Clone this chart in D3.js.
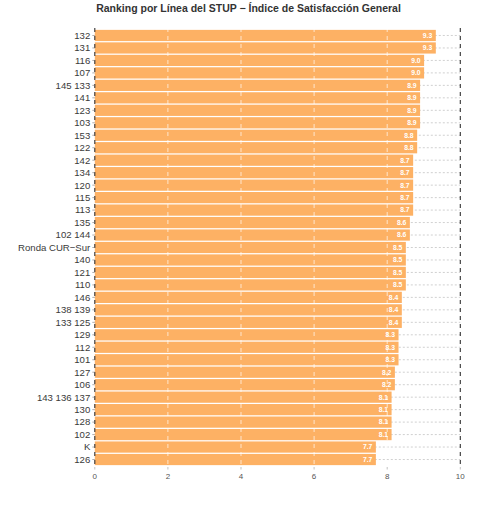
<!DOCTYPE html>
<html><head><meta charset="utf-8">
<script src="https://cdn.jsdelivr.net/npm/d3@7"></script>
<style>body{margin:0;background:#fff}svg{display:block}</style>
</head><body>
<script>
const title = "Ranking por Línea del STUP − Índice de Satisfacción General";
const categories = ["132","131","116","107","145 133","141","123","103","153","122","142","134","120","115","113","135","102 144","Ronda CUR−Sur","140","121","110","146","138 139","133 125","129","112","101","127","106","143 136 137","130","128","102","K","126"];
const values = [9.33,9.33,9.01,9.01,8.90,8.90,8.90,8.90,8.82,8.82,8.71,8.71,8.71,8.71,8.71,8.62,8.62,8.51,8.51,8.51,8.51,8.40,8.40,8.40,8.31,8.31,8.31,8.21,8.21,8.12,8.12,8.12,8.12,7.69,7.69];
const xTicks = [0,2,4,6,8,10];

const W = 488, H = 505;
const L = 94.8, R = 460.3, T = 28, B = 467;
const svg = d3.select("body").append("svg").attr("width", W).attr("height", H);

const x = d3.scaleLinear().domain([0,10]).range([L,R]);
const step = (B - T) / (categories.length - 1 + 1.2);
const yC = d3.scalePoint().domain(categories).range([T + 0.6*step, B - 0.6*step]);
const bh = step * 0.9;

// horizontal dotted gridlines
svg.append("g").selectAll("line").data(categories).join("line")
  .attr("x1", x(0)).attr("x2", x(10))
  .attr("y1", d => yC(d)).attr("y2", d => yC(d))
  .attr("stroke", "#b0b0b0").attr("stroke-width", 0.6).attr("stroke-dasharray", "2,2");

// bars
svg.append("g").selectAll("rect").data(categories).join("rect")
  .attr("x", x(0)).attr("y", (d) => yC(d) - bh/2)
  .attr("width", (d,i) => x(values[i]) - x(0)).attr("height", bh)
  .attr("fill", "#FDB164");

// white dashed vertical gridlines on bars
svg.append("g").selectAll("line").data(xTicks.filter(t => t > 0 && t < 10)).join("line")
  .attr("x1", d => x(d)).attr("x2", d => x(d)).attr("y1", T).attr("y2", B)
  .attr("stroke", "#ffffff").attr("stroke-opacity", 0.85).attr("stroke-width", 0.8).attr("stroke-dasharray", "4,4");

// dark dashed lines at 0 and 10
svg.append("g").selectAll("line").data([0,10]).join("line")
  .attr("x1", d => x(d)).attr("x2", d => x(d)).attr("y1", T).attr("y2", B)
  .attr("stroke", "#333").attr("stroke-width", 1.1).attr("stroke-dasharray", "4,4");

// value labels
svg.append("g").selectAll("text").data(categories).join("text")
  .attr("x", (d,i) => x(values[i]) - 3.5).attr("y", d => yC(d))
  .attr("dy", "0.35em").attr("text-anchor", "end")
  .attr("font-family", "Liberation Sans, Arial, sans-serif").attr("font-size", 6.8)
  .attr("font-weight", "bold").attr("fill", "#fff")
  .text((d,i) => d3.format(".1f")(values[i]));

// y axis labels and ticks
const yAxis = svg.append("g");
yAxis.selectAll("line").data(categories).join("line")
  .attr("x1", L - 2.5).attr("x2", L).attr("y1", d => yC(d)).attr("y2", d => yC(d))
  .attr("stroke", "#777").attr("stroke-width", 0.6);
yAxis.selectAll("text").data(categories).join("text")
  .attr("x", L - 4.5).attr("y", d => yC(d)).attr("dy", "0.35em").attr("text-anchor", "end")
  .attr("font-family", "Liberation Sans, Arial, sans-serif").attr("font-size", 9.6)
  .attr("fill", "#3a3a3a").text(d => d);

// x axis
const xAxis = svg.append("g");
xAxis.selectAll("line").data(xTicks).join("line")
  .attr("x1", d => x(d)).attr("x2", d => x(d)).attr("y1", B).attr("y2", B + 2.5)
  .attr("stroke", "#999").attr("stroke-width", 0.6);
xAxis.selectAll("text").data(xTicks).join("text")
  .attr("x", d => x(d)).attr("y", B + 11.5).attr("text-anchor", "middle")
  .attr("font-family", "Liberation Sans, Arial, sans-serif").attr("font-size", 8)
  .attr("fill", "#555").text(d => d);

// title
svg.append("text").attr("x", 248.5).attr("y", 11.5).attr("text-anchor", "middle")
  .attr("font-family", "Liberation Sans, Arial, sans-serif").attr("font-size", 10.5)
  .attr("font-weight", "bold").attr("fill", "#333").text(title);
</script>
</body></html>
